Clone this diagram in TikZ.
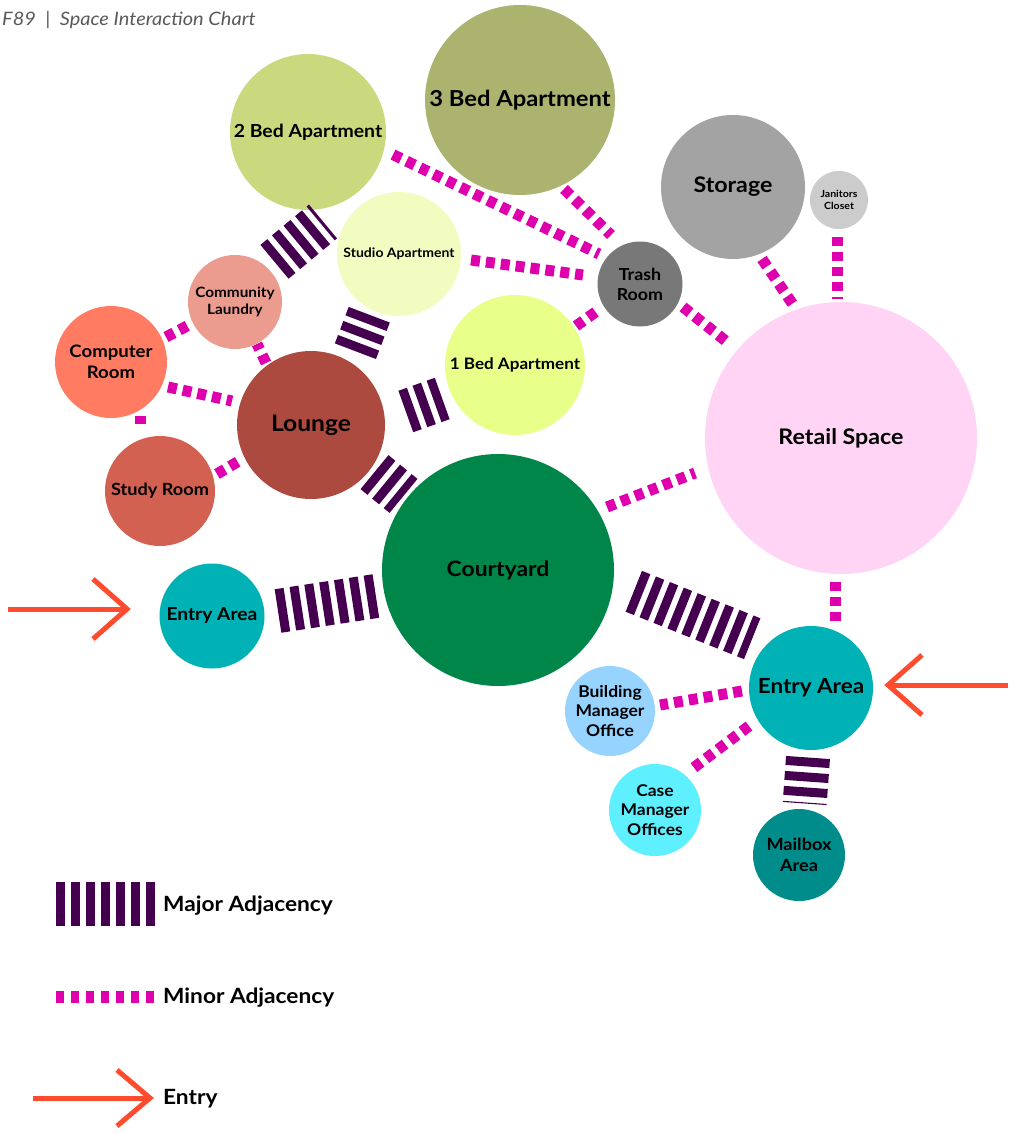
\documentclass[tikz,border=0pt]{standalone}
\usepackage{fontspec}
\setmainfont{Lato}[FakeStretch=1.08]
\usetikzlibrary{calc}

% room colours
\definecolor{cThreeBed}{HTML}{ABB36F}
\definecolor{cTwoBed}{HTML}{CAD87E}
\definecolor{cStudio}{HTML}{F2FCC0}
\definecolor{cOneBed}{HTML}{E8FF8A}
\definecolor{cStorage}{HTML}{A3A3A3}
\definecolor{cJanitor}{HTML}{CCCCCC}
\definecolor{cTrash}{HTML}{787878}
\definecolor{cLaundry}{HTML}{EC9B8F}
\definecolor{cComputer}{HTML}{FF7C62}
\definecolor{cLounge}{HTML}{AD4A3F}
\definecolor{cStudy}{HTML}{D26151}
\definecolor{cCourt}{HTML}{008648}
\definecolor{cRetail}{HTML}{FFD4F5}
\definecolor{cEntry}{HTML}{00B2B5}
\definecolor{cBuilding}{HTML}{96D3FF}
\definecolor{cCase}{HTML}{5EF0FF}
\definecolor{cMail}{HTML}{008C8A}
% connector colours
\definecolor{cMajor}{HTML}{44004F}
\definecolor{cMinor}{HTML}{DD00AC}
\definecolor{cArrow}{HTML}{FF4B2E}

\newcommand{\fsz}[1]{\fontsize{#1}{\fpeval{#1*1.22}}\selectfont}

\tikzset{
  room/.style={circle, inner sep=0pt, align=center, text=black, font=\bfseries},
  major/.style={draw=cMajor, line width=44pt, dash pattern=on 9pt off 6pt},
  minor/.style={draw=cMinor, line width=11pt, dash pattern=on 9pt off 6pt},
  entryarrow/.style={draw=cArrow, line width=5pt},
  legendtext/.style={anchor=west, font=\bfseries\fsz{21}, inner sep=0pt}
}

\begin{document}
\begin{tikzpicture}[x=1pt, y=-1pt]
\useasboundingbox (0,0) rectangle (1010,1134);

% title
\node[anchor=west, inner sep=0pt, text=black!65, font=\itshape\fsz{18.5}] (title) at (2,20) {F89\ \ |\ \ Space Interaction Chart};

% rooms
\node[room, fill=cThreeBed, minimum size=190pt, font=\bfseries\fsz{22}] (threebed) at (520,100) {3 Bed Apartment};
\node[room, fill=cTwoBed, minimum size=156pt, font=\bfseries\fsz{18}] (twobed) at (308,132) {2 Bed Apartment};
\node[room, fill=cStudio, minimum size=124pt, font=\bfseries\fsz{13}] (studio) at (399,254) {Studio Apartment};
\node[room, fill=cStorage, minimum size=144pt, font=\bfseries\fsz{21.5}] (storage) at (733,187) {Storage};
\node[room, fill=cJanitor, minimum size=58pt, font=\bfseries\fsz{9.8}] (janitor) at (839,200) {Janitors\\Closet};
\node[room, fill=cTrash, minimum size=85pt, font=\bfseries\fsz{16.5}] (trash) at (640,284) {Trash\\Room};
\node[room, fill=cOneBed, minimum size=140pt, font=\bfseries\fsz{15.8}] (onebed) at (515,365) {1 Bed Apartment};
\node[room, fill=cLaundry, minimum size=94pt, font=\bfseries\fsz{14.2}] (laundry) at (235,302) {Community\\Laundry};
\node[room, fill=cComputer, minimum size=112pt, font=\bfseries\fsz{17.2}] (computer) at (111,362) {Computer\\Room};
\node[room, fill=cLounge, minimum size=148pt, font=\bfseries\fsz{22.8}] (lounge) at (311,425) {Lounge};
\node[room, fill=cStudy, minimum size=110pt, font=\bfseries\fsz{16.8}] (study) at (160,491) {Study Room};
\node[room, fill=cCourt, minimum size=232pt, font=\bfseries\fsz{21.2}] (court) at (498,570) {Courtyard};
\node[room, fill=cRetail, minimum size=272pt, font=\bfseries\fsz{21.5}] (retail) at (841,438) {Retail Space};
\node[room, fill=cEntry, minimum size=105pt, font=\bfseries\fsz{17.8}] (entryW) at (212,616) {Entry Area};
\node[room, fill=cEntry, minimum size=124pt, font=\bfseries\fsz{20.8}] (entryE) at (811,688) {Entry Area};
\node[room, fill=cBuilding, minimum size=90pt, font=\bfseries\fsz{16.2}] (building) at (610,711) {Building\\Manager\\Office};
\node[room, fill=cCase, minimum size=92pt, font=\bfseries\fsz{16.2}] (casemgr) at (655,810) {Case\\Manager\\Offices};
\node[room, fill=cMail, minimum size=92pt, font=\bfseries\fsz{16.8}] (mailbox) at (799,855) {Mailbox\\Area};

% major adjacencies
\draw[major] (274.5,261.8) -- (323,221.5);   % laundry / two bed
\draw[major] (355.4,351.2) -- (369.6,313.8); % lounge - studio
\draw[major] (405.8,411.5) -- (442.2,398.5); % lounge - one bed
\draw[major] (374.5,472.1) -- (403.5,495.9); % lounge - courtyard
\draw[major] (278,611) -- (376,596);         % west entry - courtyard
\draw[major] (633.8,591.3) -- (752.2,638.7); % courtyard - east entry
\draw[major] (808,757.5) -- (804.7,803.5);   % east entry - mailbox

% minor adjacencies
\draw[minor] (393,154.6) -- (599,254);   % two bed - trash
\draw[minor] (564,189) -- (611,235);     % three bed - trash
\draw[minor] (471,260) -- (583,275);     % studio - trash
\draw[minor] (576,326) -- (597,311);     % one bed - trash
\draw[minor] (683,307) -- (727,342);     % trash - retail
\draw[minor] (762,259) -- (794,306);     % storage - retail
\draw[minor] (837,237) -- (837,299);     % janitors - retail
\draw[minor] (607,507) -- (695,473);     % courtyard - retail
\draw[minor] (835,582) -- (835,621);     % retail - east entry
\draw[minor] (742,691) -- (660,705);     % east entry - building manager
\draw[minor] (749,726) -- (692,769);     % east entry - case manager
\draw[minor] (166,337) -- (189,325);     % computer - laundry
\draw[minor] (168,387) -- (232,401);     % computer - lounge
\draw[minor] (140,415.5) -- (140,423.5); % computer - study
\draw[minor] (217,474) -- (239,461);     % study - lounge
\draw[minor] (266,363) -- (257,344);     % lounge - laundry

% entries
\coordinate (wTip) at (127,609);
\coordinate (wTail) at (8,609);
\draw[entryarrow] (wTail) -- (wTip);
\draw[entryarrow] ($(wTip)+(-34,-30)$) -- (wTip) -- ($(wTip)+(-34,30)$);
\coordinate (eTip) at (888,685);
\coordinate (eTail) at (1008,685);
\draw[entryarrow] (eTail) -- (eTip);
\draw[entryarrow] ($(eTip)+(34,-30)$) -- (eTip) -- ($(eTip)+(34,30)$);

% legend
\coordinate (lgMajorA) at (56,903.5);
\coordinate (lgMajorB) at (155,903.5);
\draw[draw=cMajor, line width=44pt, dash pattern=on 9pt off 6pt] (lgMajorA) -- (lgMajorB);
\node[legendtext] (lgMajor) at (163,906) {Major Adjacency};
\coordinate (lgMinorA) at (56,997);
\coordinate (lgMinorB) at (155,997);
\draw[draw=cMinor, line width=12pt, dash pattern=on 8pt off 7pt] (lgMinorA) -- (lgMinorB);
\node[legendtext] (lgMinor) at (163,998) {Minor Adjacency};
\coordinate (lgTip) at (150,1098);
\coordinate (lgTail) at (33,1098);
\draw[entryarrow] (lgTail) -- (lgTip);
\draw[entryarrow] ($(lgTip)+(-33,-28)$) -- (lgTip) -- ($(lgTip)+(-33,28)$);
\node[legendtext] (lgEntry) at (163,1098.5) {Entry};
\end{tikzpicture}
\end{document}
